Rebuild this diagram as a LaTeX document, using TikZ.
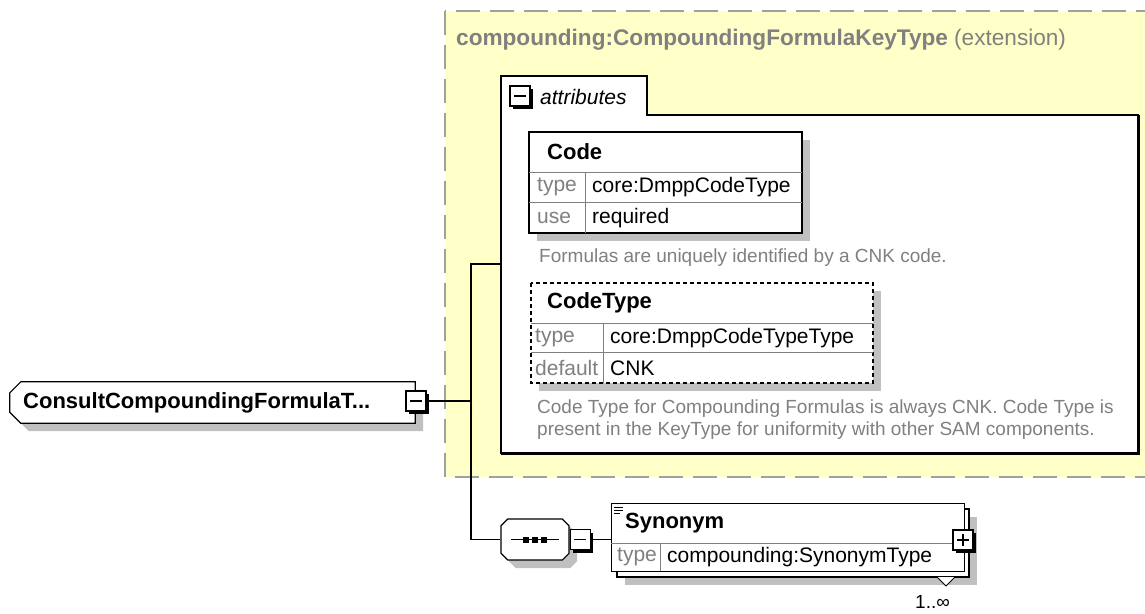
\documentclass[tikz,border=0pt]{standalone}
\usepackage{fontspec}
\setmainfont{Liberation Sans}
\usetikzlibrary{positioning,shapes.misc,shadows}

\definecolor{extyellow}{RGB}{255,255,200}
\definecolor{extdash}{RGB}{160,160,160}
\definecolor{labelgray}{RGB}{128,128,128}
\definecolor{shadowgray}{RGB}{192,192,192}

\newcommand{\namefont}{\fontsize{22}{26}\selectfont\bfseries}
\newcommand{\valfont}{\fontsize{21}{25}\selectfont}
\newcommand{\descfont}{\fontsize{19}{22}\selectfont}

\tikzset{
  conn/.style={line width=1.4pt},
  txt/.style={inner sep=0pt,anchor=west},
  boxshadow/.style={drop shadow={shadow xshift=8pt,shadow yshift=-8pt,fill=shadowgray,opacity=1}},
  togglebox/.style={draw,fill=white,line width=1.3pt,minimum size=20pt,inner sep=0pt,
    drop shadow={shadow xshift=3pt,shadow yshift=-3pt,fill=black,opacity=1}},
  minusbox/.style={togglebox,path picture={\draw[line width=1.3pt]
    ([xshift=4pt]path picture bounding box.west) -- ([xshift=-4pt]path picture bounding box.east);}},
  plusbox/.style={togglebox,path picture={\draw[line width=1.3pt]
    ([xshift=4pt]path picture bounding box.west) -- ([xshift=-4pt]path picture bounding box.east)
    ([yshift=4pt]path picture bounding box.south) -- ([yshift=-4pt]path picture bounding box.north);}},
}

\begin{document}
\begin{tikzpicture}[x=1pt,y=-1pt]
\useasboundingbox (0,0) rectangle (1145,613);

% extension area
\draw[extdash,line width=2pt,dash pattern=on 24pt off 10pt,fill=extyellow] (445,10.5) rectangle (1152,477);
\node[txt,text=labelgray,font=\fontsize{22.6}{26}\selectfont] (exttitle) at (456,40)
  {\textbf{compounding:CompoundingFormulaKeyType} (extension)};

% attributes tab
\draw[fill=white,line width=1.2pt] (501,453) -- (501,76) -- (647,76) -- (647,115) -- (1138,115) -- (1138,453) -- cycle;
\draw[line width=2.4pt] (501,454) -- (1139,454) -- (1139,115);
\node[minusbox] (attrtog) at (520,96) {};
\node[txt,font=\valfont\itshape] (attrlbl) at (540,97) {attributes};
\coordinate (attrin) at (501,264);

% Code
\draw[fill=white,line width=1.2pt,boxshadow] (529,132) rectangle (802,233);
\draw[labelgray] (529,172) -- (802,172) (529,202) -- (802,202) (585,172) -- (585,233);
\node[txt,font=\namefont] (codename) at (547,152) {Code};
\node[txt,font=\valfont,text=labelgray] (codetypelbl) at (537,187) {type};
\node[txt,font=\valfont] (codetype) at (592,187) {core:DmppCodeType};
\node[txt,font=\valfont,text=labelgray] (codeuselbl) at (537,218) {use};
\node[txt,font=\valfont] (codeuse) at (592,218) {required};
\node[txt,font=\descfont,text=labelgray] (codedesc) at (539,258) {Formulas are uniquely identified by a CNK code.};

% CodeType
\draw[fill=white,line width=1.4pt,dash pattern=on 4pt off 3pt,boxshadow] (531,283) rectangle (873,383);
\draw[labelgray] (531,323) -- (873,323) (531,352) -- (873,352) (603,323) -- (603,383);
\node[txt,font=\namefont] (ctname) at (547,303) {CodeType};
\node[txt,font=\valfont,text=labelgray] (cttypelbl) at (535,338) {type};
\node[txt,font=\valfont] (cttype) at (610,338) {core:DmppCodeTypeType};
\node[txt,font=\valfont,text=labelgray] (ctdefaultlbl) at (535,368) {default};
\node[txt,font=\valfont] (ctdefault) at (610,368) {CNK};
\node[txt,font=\descfont,text=labelgray,align=left] (ctdesc) at (537,420)
  {Code Type for Compounding Formulas is always CNK. Code Type is\\present in the KeyType for uniformity with other SAM components.};

% root element
\node[minimum width=405pt,minimum height=41pt,inner sep=0pt] (elem) at (212.5,402.5) {};
\draw[fill=white,line width=1.2pt,boxshadow]
  ([xshift=11pt]elem.north west) -- (elem.north east) -- (elem.south east)
  -- ([xshift=11pt]elem.south west) -- ([yshift=11pt]elem.south west) -- ([yshift=-11pt]elem.north west) -- cycle;
\node[txt,font=\namefont] (elemname) at (23,402.5) {ConsultCompoundingFormulaT...};
\node[minusbox] (elemtog) at (416,401) {};
\coordinate (fork) at (471,401);

% sequence
\node[chamfered rectangle,chamfered rectangle xsep=10pt,chamfered rectangle ysep=10pt,draw,fill=white,
  line width=1.2pt,boxshadow,minimum width=68pt,minimum height=41pt] (seq) at (535,539.5) {};
\draw[line width=1.2pt] ([xshift=-24pt]seq.center) -- ([xshift=24pt]seq.center);
\foreach \dx in {-9,0,9}
  \fill ([xshift=\dx pt]seq.center) +(-3,-3) rectangle +(3,3);
\node[minusbox,right=0pt of seq] (seqtog) {};

% Synonym
\draw[fill=white,line width=1.2pt,boxshadow] (617,509) rectangle (969,577);
\node[draw,fill=white,line width=1.2pt,anchor=north west,minimum width=353pt,minimum height=68pt,inner sep=0pt]
  (syn) at (611,503) {};
\draw[labelgray] (611,543) -- (964,543) (660,543) -- (660,571);
\draw[line width=1pt] (614,507) -- (623,507) (614,510) -- (623,510) (614,513) -- (620,513);
\node[txt,font=\namefont] (synname) at (625,523) {Synonym};
\node[txt,font=\valfont,text=labelgray] (syntypelbl) at (617,557) {type};
\node[txt,font=\valfont] (syntype) at (667,557) {compounding:SynonymType};
\node[plusbox] (syntog) at (963,540) {};
\draw[fill=white,line width=1pt] (937,577) -- (946,586) -- (955,577);
\node[txt,font=\descfont] (syncard) at (915,602) {1..∞};

% connectors
\draw[conn] (elemtog.east) -- (fork);
\draw[conn] (attrin) -| (fork) |- (seq.west);
\draw[conn] (seqtog.east) -- (seqtog.east -| syn.west);
\end{tikzpicture}
\end{document}
